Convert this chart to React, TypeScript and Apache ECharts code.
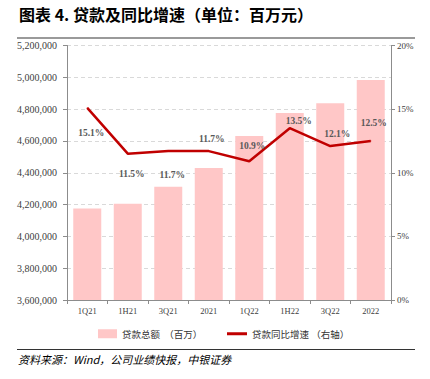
import React, { useEffect, useRef } from "react";
import * as echarts from "echarts";

const categories = ["1Q21", "1H21", "3Q21", "2021", "1Q22", "1H22", "3Q22", "2022"];
const loanTotals = [4175000, 4205000, 4312000, 4430000, 4631000, 4776000, 4837000, 4983000];
const loanGrowth = [15.1, 11.5, 11.7, 11.7, 10.9, 13.5, 12.1, 12.5];
const growthLabelOffsets: [number, number][] = [
  [4, 25], [4, 20], [4, 24], [3, -12], [3, -15], [9, -7], [7, -12], [3, -18],
];
const barName = "贷款总额  （百万）";
const lineName = "贷款同比增速 （右轴）";
const titleText = "图表 4. 贷款及同比增速（单位：百万元）";
const sourceText = "资料来源：Wind，公司业绩快报，中银证券";

const SERIF = "'Liberation Serif', 'Times New Roman', serif";
const CJK = "'Noto Sans CJK SC', sans-serif";

export default function App() {
  const ref = useRef<HTMLDivElement>(null);
  useEffect(() => {
    document.body.style.margin = "0";
    const chart = echarts.init(ref.current!, undefined, { renderer: "svg" });
    const axisLineStyle = { color: "#8c8c8c", width: 1 };
    chart.setOption({
      animation: false,
      backgroundColor: "#ffffff",
      grid: { left: 67, right: 39, top: 45.5, height: 254.5, containLabel: false },
      legend: [
        {
          left: 93,
          top: 324,
          itemWidth: 19,
          itemHeight: 9,
          itemGap: 10,
          data: [{ name: barName, icon: "rect" }],
          textStyle: { fontFamily: CJK, fontSize: 9.5, color: "#333" },
        },
        {
          left: 222,
          top: 324,
          itemWidth: 20,
          itemHeight: 3,
          data: [{ name: lineName, icon: "rect", itemStyle: { color: "#C00000" } }],
          textStyle: { fontFamily: CJK, fontSize: 9.5, color: "#333" },
        },
      ],
      xAxis: {
        type: "category",
        data: categories,
        boundaryGap: true,
        axisLine: { lineStyle: axisLineStyle },
        axisTick: { show: true, length: 4, lineStyle: axisLineStyle },
        axisLabel: { fontFamily: SERIF, fontSize: 8.5, color: "#404040", margin: 6 },
      },
      yAxis: [
        {
          type: "value",
          min: 3600000,
          max: 5200000,
          interval: 200000,
          axisLine: { show: true, lineStyle: axisLineStyle },
          axisTick: { show: true, length: 4, lineStyle: axisLineStyle },
          axisLabel: {
            fontFamily: SERIF,
            fontSize: 10,
            color: "#404040",
            margin: 10,
            formatter: (v: number) => v.toLocaleString("en-US"),
          },
          splitLine: { show: true, lineStyle: { color: "#d9d9d9", type: [4, 3], width: 1 } },
        },
        {
          type: "value",
          min: 0,
          max: 20,
          interval: 5,
          position: "right",
          axisLine: { show: true, lineStyle: axisLineStyle },
          axisTick: { show: true, length: 4, lineStyle: axisLineStyle },
          axisLabel: { fontFamily: SERIF, fontSize: 9, color: "#404040", margin: 6, formatter: "{value}%" },
          splitLine: { show: false },
        },
      ],
      series: [
        {
          name: barName,
          type: "bar",
          data: loanTotals,
          barWidth: 28,
          itemStyle: { color: "#FFC7C7" },
          yAxisIndex: 0,
        },
        {
          name: lineName,
          type: "line",
          yAxisIndex: 1,
          data: loanGrowth.map((v, i) => ({
            value: v,
            label: { offset: growthLabelOffsets[i] },
          })),
          symbol: "circle",
          symbolSize: 1,
          itemStyle: { color: "#C00000" },
          lineStyle: { color: "#C00000", width: 2.5 },
          label: {
            show: true,
            position: "inside",
            formatter: (p: any) => p.value.toFixed(1) + "%",
            fontFamily: SERIF,
            fontSize: 9.5,
            fontWeight: "bold",
            color: "#595959",
          },
        },
      ],
      graphic: [
        {
          type: "text",
          left: 19,
          top: 6,
          style: { text: titleText, fontFamily: CJK, fontSize: 16, fontWeight: "bold", fill: "#000" },
        },
        {
          type: "line",
          shape: { x1: 17, y1: 38, x2: 415, y2: 38 },
          style: { stroke: "#9a9a9a", lineWidth: 2 },
        },
        {
          type: "line",
          shape: { x1: 17, y1: 349.5, x2: 415, y2: 349.5 },
          style: { stroke: "#333", lineWidth: 1 },
        },
        {
          type: "text",
          left: 18,
          top: 353,
          style: { text: sourceText, fontFamily: CJK, fontSize: 11, fontStyle: "italic", fill: "#000" },
        },
      ],
    });
    return () => chart.dispose();
  }, []);
  return <div ref={ref} style={{ width: 430, height: 379 }} />;
}
